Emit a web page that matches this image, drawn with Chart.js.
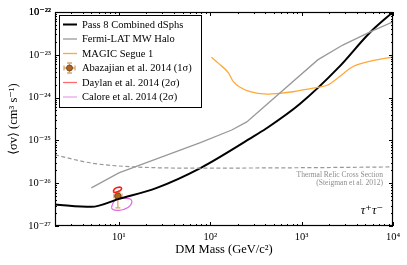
<!DOCTYPE html>
<html>
<head>
<meta charset="utf-8">
<script src="https://cdn.jsdelivr.net/npm/chart.js@4.4.1/dist/chart.umd.min.js"></script>
<style>
  html, body { margin: 0; padding: 0; background: #fff; }
</style>
</head>
<body>
<canvas id="chart" width="407" height="265"></canvas>
<script>
// Limits (tau+tau- channel)
const pass8Mass = [2, 5, 10, 26, 78, 272, 413, 955, 2590, 5500, 10000];
const pass8Sigma = [3.2e-27, 2.8e-27, 4.3e-27, 7.8e-27, 2.26e-26, 1.1e-25, 1.92e-25, 7.1e-25, 5.3e-24, 3.2e-23, 1.0e-22];

const haloMass = [5, 10, 25, 78, 172, 251, 1500, 2820, 5700, 10000];
const haloSigma = [7.8e-27, 1.74e-26, 3.6e-26, 8.9e-26, 1.75e-25, 2.71e-25, 7.6e-24, 1.69e-23, 3.47e-23, 5.9e-23];

const magicMass = [103, 123, 158, 179, 212, 272, 413, 577, 805, 1125, 1504, 1932, 2588, 3614, 5960, 10000];
const magicSigma = [8.75e-24, 6.3e-24, 3.8e-24, 2.35e-24, 1.74e-24, 1.37e-24, 1.21e-24, 1.26e-24, 1.37e-24, 1.56e-24, 1.74e-24, 1.97e-24, 3.08e-24, 5.27e-24, 7.28e-24, 8.9e-24];

const relicMass = [2, 5, 15, 78, 1000, 10000];
const relicSigma = [4.6e-26, 2.95e-26, 2.4e-26, 2.25e-26, 2.3e-26, 2.4e-26];

// GC excess fits
const abazajian = { mass: 9.75, sigma: 5.0e-27, massLo: 8.83, massHi: 10.8, sigmaLo: 2.64e-27, sigmaHi: 6.0e-27 };

const daylanMass = [8.67, 8.94, 9.63, 10.4, 10.7, 10.4, 9.63, 8.94];
const daylanSigma = [6.4e-27, 7.3e-27, 7.9e-27, 8.07e-27, 7.6e-27, 6.8e-27, 6.3e-27, 6.1e-27];

const caloreMass = [8.29, 8.83, 10, 11.9, 13.7, 13.3, 11.3, 9.5, 8.6];
const caloreSigma = [2.7e-27, 3.73e-27, 4.28e-27, 4.43e-27, 4.05e-27, 3.01e-27, 2.43e-27, 2.33e-27, 2.43e-27];

const xMin = 2, xMax = 1e4, yMin = 1e-27, yMax = 1e-22;

const serif = "'Liberation Serif', 'DejaVu Serif', serif";
const supDigits = { '0': '⁰', '1': '¹', '2': '²', '3': '³', '4': '⁴', '5': '⁵', '6': '⁶', '7': '⁷', '8': '⁸', '9': '⁹', '-': '⁻' };

function decadeLabel(value) {
  const e = Math.log10(value);
  if (Math.abs(e - Math.round(e)) > 1e-6) return '';
  return '10' + String(Math.round(e)).split('').map(c => supDigits[c]).join('');
}

function pts(xs, ys) {
  return xs.map((x, i) => ({ x: x, y: ys[i] }));
}
function closed(xs, ys) {
  const p = pts(xs, ys);
  p.push(p[0]);
  return p;
}

// error bars on the Abazajian point
const errorBars = {
  id: 'errorBars',
  beforeDatasetsDraw(chart) {
    const { ctx, scales: { x, y } } = chart;
    const cx = x.getPixelForValue(abazajian.mass), cy = y.getPixelForValue(abazajian.sigma);
    const x0 = x.getPixelForValue(abazajian.massLo), x1 = x.getPixelForValue(abazajian.massHi);
    const y0 = y.getPixelForValue(abazajian.sigmaLo), y1 = y.getPixelForValue(abazajian.sigmaHi);
    ctx.save();
    ctx.strokeStyle = '#dea56c';
    ctx.lineWidth = 1.3;
    ctx.beginPath();
    ctx.moveTo(x0, cy); ctx.lineTo(x1, cy);
    ctx.moveTo(cx, y0); ctx.lineTo(cx, y1);
    ctx.moveTo(x0, cy - 2.5); ctx.lineTo(x0, cy + 2.5);
    ctx.moveTo(x1, cy - 2.5); ctx.lineTo(x1, cy + 2.5);
    ctx.moveTo(cx - 2.5, y0); ctx.lineTo(cx + 2.5, y0);
    ctx.moveTo(cx - 2.5, y1); ctx.lineTo(cx + 2.5, y1);
    ctx.stroke();
    ctx.restore();
  }
};

// frame with inward major/minor ticks on all four sides
const frameTicks = {
  id: 'frameTicks',
  afterDatasetsDraw(chart) {
    const { ctx, chartArea: a, scales: { x, y } } = chart;
    ctx.save();
    ctx.strokeStyle = '#000';
    ctx.lineWidth = 1;
    ctx.beginPath();
    for (let e = 0; e <= 4; e++) {
      for (let k = 1; k <= 9; k++) {
        const v = k * Math.pow(10, e);
        if (v < xMin || v > xMax) continue;
        const px = Math.round(x.getPixelForValue(v)) + 0.5;
        const len = k === 1 ? 4 : 2;
        ctx.moveTo(px, a.bottom); ctx.lineTo(px, a.bottom - len);
        ctx.moveTo(px, a.top); ctx.lineTo(px, a.top + len);
      }
    }
    for (let e = -27; e <= -22; e++) {
      for (let k = 1; k <= 9; k++) {
        const v = k * Math.pow(10, e);
        if (v < yMin * 0.999 || v > yMax * 1.001) continue;
        const py = Math.round(y.getPixelForValue(v)) + 0.5;
        const len = k === 1 ? 4 : 2;
        ctx.moveTo(a.left, py); ctx.lineTo(a.left + len, py);
        ctx.moveTo(a.right, py); ctx.lineTo(a.right - len, py);
      }
    }
    ctx.stroke();
    ctx.lineWidth = 1.2;
    ctx.strokeRect(a.left + 0.5, a.top + 0.5, a.right - a.left - 1, a.bottom - a.top - 1);

    // annotations
    ctx.fillStyle = '#8c8c8c';
    ctx.font = "7.5px " + serif;
    ctx.textAlign = 'right';
    ctx.textBaseline = 'middle';
    ctx.fillText('Thermal Relic Cross Section', a.right - 10, 175);
    ctx.fillText('(Steigman et al. 2012)', a.right - 10, 183.5);
    ctx.fillStyle = '#000';
    ctx.font = "italic 12.5px " + serif;
    ctx.fillText('τ⁺τ⁻', a.right - 10, 211);
    ctx.restore();
  }
};

// legend box, drawn like the matplotlib one
const legendEntries = [
  { label: 'Pass 8 Combined dSphs', color: '#000', width: 2 },
  { label: 'Fermi-LAT MW Halo', color: '#999', width: 1.3 },
  { label: 'MAGIC Segue 1', color: '#ffa83a', width: 1.3 },
  { label: 'Abazajian et al. 2014 (1σ)', marker: true },
  { label: 'Daylan et al. 2014 (2σ)', color: '#ff6b6b', width: 1.3 },
  { label: 'Calore et al. 2014 (2σ)', color: '#e6a8ea', width: 1.3 }
];

const boxLegend = {
  id: 'boxLegend',
  afterDraw(chart) {
    const { ctx } = chart;
    ctx.save();
    ctx.fillStyle = '#fff';
    ctx.fillRect(59.5, 15.5, 142, 92);
    ctx.strokeStyle = '#000';
    ctx.lineWidth = 1;
    ctx.strokeRect(59.5, 15.5, 142, 92);
    ctx.font = "10.5px " + serif;
    ctx.textBaseline = 'middle';
    ctx.textAlign = 'left';
    legendEntries.forEach((ent, i) => {
      const yy = 24.5 + i * 14.5;
      if (ent.marker) {
        ctx.strokeStyle = '#dea56c';
        ctx.lineWidth = 1.3;
        ctx.beginPath();
        ctx.moveTo(64, yy); ctx.lineTo(75, yy);
        ctx.moveTo(69.5, yy - 5); ctx.lineTo(69.5, yy + 5);
        ctx.moveTo(64, yy - 2.5); ctx.lineTo(64, yy + 2.5);
        ctx.moveTo(75, yy - 2.5); ctx.lineTo(75, yy + 2.5);
        ctx.moveTo(67, yy - 5); ctx.lineTo(72, yy - 5);
        ctx.moveTo(67, yy + 5); ctx.lineTo(72, yy + 5);
        ctx.stroke();
        ctx.beginPath();
        ctx.arc(69.5, yy, 3, 0, Math.PI * 2);
        ctx.fillStyle = '#b0651f';
        ctx.fill();
        ctx.strokeStyle = '#6b3a10';
        ctx.lineWidth = 0.8;
        ctx.stroke();
      } else {
        ctx.strokeStyle = ent.color;
        ctx.lineWidth = ent.width;
        ctx.beginPath();
        ctx.moveTo(63, yy); ctx.lineTo(77, yy);
        ctx.stroke();
      }
      ctx.fillStyle = '#000';
      ctx.fillText(ent.label, 82, yy + 0.5);
    });
    ctx.restore();
  }
};

const ctx = document.getElementById('chart').getContext('2d');
new Chart(ctx, {
  type: 'line',
  data: {
    datasets: [
      { label: 'Thermal Relic', data: pts(relicMass, relicSigma), borderColor: '#999', borderWidth: 1.2, borderDash: [4, 2.5], tension: 0.3, cubicInterpolationMode: 'monotone' },
      { label: 'Fermi-LAT MW Halo', data: pts(haloMass, haloSigma), borderColor: '#999', borderWidth: 1.3, tension: 0 },
      { label: 'MAGIC Segue 1', data: pts(magicMass, magicSigma), borderColor: '#ffa83a', borderWidth: 1.3, cubicInterpolationMode: 'monotone' },
      { label: 'Pass 8 Combined dSphs', data: pts(pass8Mass, pass8Sigma), borderColor: '#000', borderWidth: 2, cubicInterpolationMode: 'monotone' },
      { label: 'Daylan et al. 2014', data: closed(daylanMass, daylanSigma), borderColor: '#ff1a1a', borderWidth: 1.6, tension: 0.3 },
      { label: 'Calore et al. 2014', data: closed(caloreMass, caloreSigma), borderColor: '#dc6ae0', borderWidth: 1.2, tension: 0.45 },
      { label: 'Abazajian et al. 2014', data: [{ x: abazajian.mass, y: abazajian.sigma }], showLine: false, pointRadius: 3.2, pointBackgroundColor: '#b0651f', pointBorderColor: '#6b3a10', pointBorderWidth: 0.8 }
    ]
  },
  options: {
    responsive: false,
    animation: false,
    layout: { padding: { top: 12, right: 14, left: 0, bottom: 0 } },
    elements: { point: { radius: 0 } },
    plugins: { legend: { display: false }, tooltip: { enabled: false } },
    scales: {
      x: {
        type: 'logarithmic', min: xMin, max: xMax,
        grid: { display: false, drawTicks: false }, border: { display: false },
        ticks: { autoSkip: false, maxRotation: 0, padding: 5, color: '#000', font: { family: serif, size: 10.5 }, callback: decadeLabel },
        title: { display: true, text: 'DM Mass (GeV/c²)', color: '#000', font: { family: serif, size: 12.5 }, padding: { top: 0, bottom: 8 } },
        afterFit(s) { s.height = 39; }
      },
      y: {
        type: 'logarithmic', min: yMin, max: yMax,
        grid: { display: false, drawTicks: false }, border: { display: false },
        ticks: { autoSkip: false, padding: 4, color: '#000', font: { family: serif, size: 10.5 }, callback: decadeLabel },
        title: { display: true, text: '⟨σv⟩ (cm³ s⁻¹)', color: '#000', font: { family: serif, size: 12.5 }, padding: { top: 6, bottom: 0 } },
        afterFit(s) { s.width = 55; }
      }
    }
  },
  plugins: [errorBars, frameTicks, boxLegend]
});
</script>
</body>
</html>
